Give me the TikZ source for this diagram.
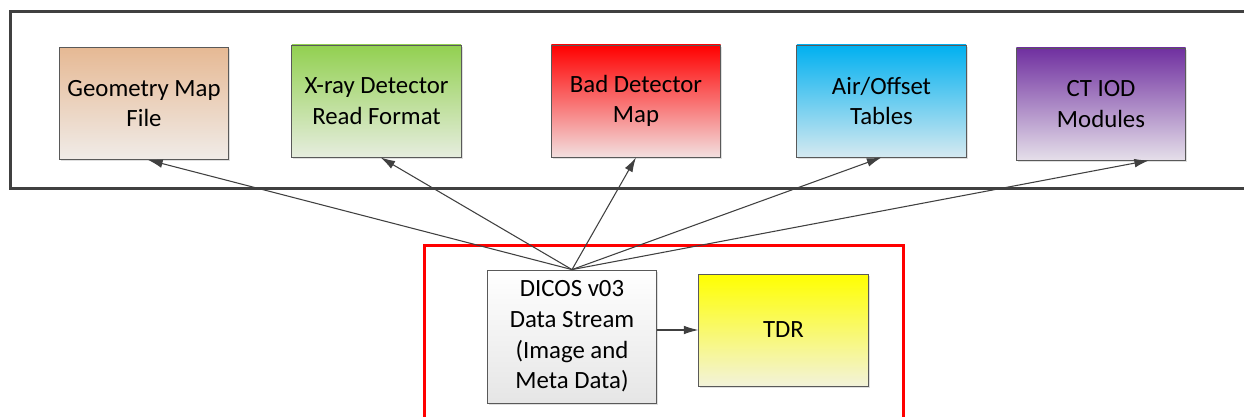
\documentclass[tikz,border=0pt]{standalone}
\usepackage{fontspec}
\setmainfont{Carlito}
\usetikzlibrary{arrows.meta,shadows}

\definecolor{geo}{HTML}{E6B994}
\definecolor{xray}{HTML}{92D050}
\definecolor{bad}{HTML}{FF0000}
\definecolor{air}{HTML}{00B0F0}
\definecolor{ctiod}{HTML}{7030A0}
\definecolor{tdr}{HTML}{FFFF00}
\definecolor{frame}{HTML}{404040}

\tikzstyle{block} = [draw = black!65, line width = 0.6pt, text centered, align = center, minimum width = 127pt, minimum height = 84pt, font = \fontsize{18.6}{23}\selectfont, drop shadow = {shadow xshift = 1.2pt, shadow yshift = -1.2pt, opacity = 0.25}]
\tikzstyle{link} = [-{Latex[length = 11pt, width = 6.5pt]}, draw = frame, line width = 0.8pt]

\begin{document}
\begin{tikzpicture}[x = 0.75pt, y = -0.75pt]
		\useasboundingbox (0, 0) rectangle (1244, 417);
		% frames
		\draw [line width = 2.25pt, draw = frame] (1250, 12) -- (10, 12) -- (10, 188) -- (1250, 188);
		\draw [line width = 2.25pt, draw = red] (424, 425) -- (424, 245) -- (903, 245) -- (903, 425);

		\node [block, top color = geo, bottom color = geo!10!white!95!black] at (144, 103.5) (1) {Geometry Map\\File};
		\node [block, top color = xray, bottom color = xray!12!white!95!black] at (376.5, 101) (2) {X-ray Detector\\Read Format};
		\node [block, top color = bad, bottom color = bad!8!white!95!black] at (636, 101) (3) {Bad Detector\\Map};
		\node [block, top color = air, bottom color = air!12!white!95!black] at (881.5, 101) (4) {Air/Offset\\Tables};
		\node [block, top color = ctiod, bottom color = ctiod!10!white!95!black] at (1101, 104) (5) {CT IOD\\Modules};
		\node [block, minimum height = 99.75pt, top color = white, bottom color = black!10] at (572, 336.5) (6) {DICOS v03\\Data Stream\\(Image and\\Meta Data)};
		\node [block, top color = tdr, bottom color = tdr!10!white!95!black] at (783.5, 330) (7) {TDR};

		\draw [link] (6.north) -- ([xshift = 3pt]1.south);
		\draw [link] (6.north) -- ([xshift = 3pt]2.south);
		\draw [link] (6.north) -- (3.south);
		\draw [link] (6.north) -- (4.south);
		\draw [link] (6.north) -- ([xshift = 36pt]5.south);
		\draw [link] (6.east |- 7.west) -- (7.west);
	\end{tikzpicture}
\end{document}
